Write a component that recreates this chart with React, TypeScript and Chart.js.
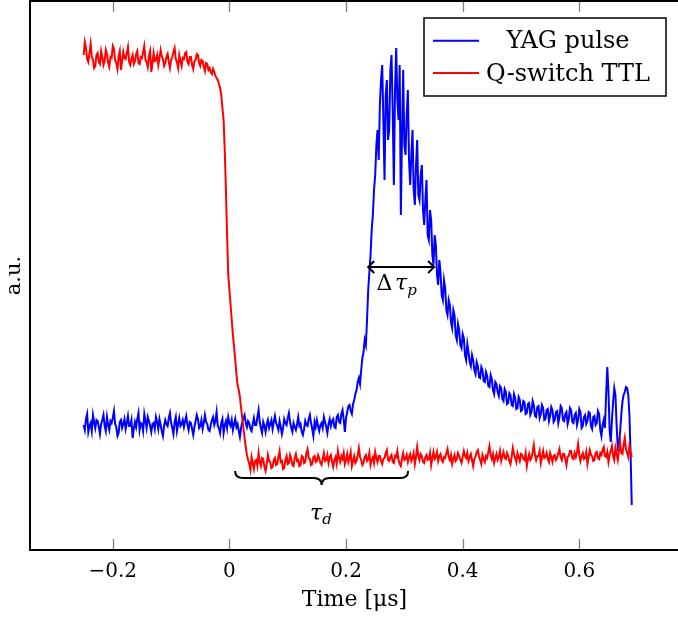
import React, { useEffect, useRef } from "react";
import { Chart, registerables } from "chart.js";

Chart.register(...registerables);

const FONT = "'DejaVu Serif', 'Liberation Serif', serif";

// Sampling grid of the oscilloscope traces (µs)
const T_START = -0.25;
const T_STEP = 0.002;

// YAG pulse photodiode trace (a.u.), one value per sample
const YAG_PULSE = [
  1.25, 1.20, 1.31, 1.36, 1.18, 1.24, 1.27, 1.19, 1.35, 1.28, 1.22, 1.30, 1.29, 1.23, 1.16, 1.26, 1.30, 1.35, 1.24, 1.19,
  1.33, 1.25, 1.20, 1.29, 1.27, 1.32, 1.39, 1.26, 1.23, 1.14, 1.17, 1.28, 1.30, 1.22, 1.26, 1.31, 1.21, 1.27, 1.34, 1.24,
  1.24, 1.30, 1.12, 1.21, 1.28, 1.23, 1.31, 1.37, 1.20, 1.27, 1.26, 1.19, 1.36, 1.29, 1.22, 1.33, 1.29, 1.24, 1.18, 1.26,
  1.27, 1.21, 1.33, 1.28, 1.21, 1.31, 1.25, 1.19, 1.14, 1.24, 1.30, 1.26, 1.24, 1.32, 1.37, 1.27, 1.22, 1.16, 1.28, 1.33,
  1.19, 1.26, 1.32, 1.24, 1.26, 1.30, 1.23, 1.29, 1.34, 1.25, 1.20, 1.28, 1.27, 1.21, 1.15, 1.23, 1.29, 1.35, 1.31, 1.22,
  1.24, 1.30, 1.21, 1.27, 1.35, 1.28, 1.26, 1.20, 1.19, 1.25, 1.30, 1.33, 1.25, 1.29, 1.38, 1.24, 1.22, 1.17, 1.27, 1.31,
  1.17, 1.25, 1.29, 1.22, 1.33, 1.27, 1.24, 1.30, 1.20, 1.26, 1.31, 1.23, 1.26, 1.19, 1.13, 1.22, 1.28, 1.32, 1.35, 1.27,
  1.23, 1.29, 1.27, 1.21, 1.19, 1.26, 1.32, 1.25, 1.25, 1.33, 1.40, 1.28, 1.22, 1.17, 1.28, 1.24, 1.18, 1.26, 1.30, 1.22,
  1.26, 1.30, 1.21, 1.28, 1.34, 1.27, 1.24, 1.20, 1.29, 1.23, 1.16, 1.22, 1.31, 1.27, 1.25, 1.32, 1.37, 1.28, 1.22, 1.18,
  1.27, 1.23, 1.20, 1.26, 1.33, 1.24, 1.26, 1.18, 1.15, 1.21, 1.29, 1.25, 1.24, 1.31, 1.35, 1.27, 1.21, 1.14, 1.28, 1.23,
  1.30, 1.24, 1.19, 1.25, 1.27, 1.22, 1.33, 1.28, 1.23, 1.17, 1.26, 1.31,
  1.24, 1.29, 1.31, 1.23, 1.22, 1.33, 1.35, 1.28, 1.27, 1.36, 1.40, 1.30, 1.18, 1.32, 1.38, 1.44, 1.45, 1.39, 1.36, 1.46,
  1.50, 1.56, 1.60, 1.68, 1.72, 1.66, 1.80, 1.92, 1.98, 2.10, 2.05, 2.30, 2.60, 2.78, 2.95, 3.20, 3.35, 3.60, 3.75, 4.05,
  4.20, 3.90, 4.45, 4.70, 4.85, 4.30, 3.70, 4.55, 4.70, 4.10, 4.20, 4.80, 4.95, 4.40, 3.65, 4.60, 5.02, 4.50, 4.30, 4.85,
  3.35, 4.15, 4.80, 4.05, 3.95, 4.35, 4.60, 3.90, 3.65, 3.95, 4.20, 3.60, 3.45, 3.85, 4.10, 3.55, 3.50, 3.75, 3.85, 3.40,
  3.25, 3.50, 3.70, 3.15, 3.10, 3.40, 3.30, 2.95, 2.85, 3.15, 3.05, 2.75, 2.65, 2.90, 2.78, 2.55, 2.50, 2.70, 2.62, 2.40,
  2.35, 2.50, 2.45, 2.28, 2.22, 2.40, 2.35, 2.15, 2.10, 2.26, 2.20, 2.05, 2.02, 2.16, 2.12, 1.95, 1.90, 2.06, 1.98, 1.88,
  1.84, 1.95, 1.90, 1.80, 1.76, 1.88, 1.84, 1.73, 1.72, 1.83, 1.80, 1.69, 1.68, 1.78, 1.74, 1.64, 1.63, 1.75, 1.71, 1.60,
  1.56, 1.68, 1.66, 1.58, 1.54, 1.64, 1.62, 1.51, 1.49, 1.61, 1.58, 1.46, 1.47, 1.57, 1.55, 1.45, 1.44, 1.56, 1.52, 1.41,
  1.42, 1.53, 1.50, 1.39, 1.40, 1.49, 1.48, 1.36, 1.37, 1.46, 1.47, 1.35, 1.38, 1.49, 1.45, 1.34, 1.33, 1.43, 1.44, 1.32,
  1.36, 1.45, 1.42, 1.30, 1.31, 1.40, 1.41, 1.29, 1.34, 1.43, 1.40, 1.28, 1.30, 1.38, 1.39, 1.27, 1.33, 1.44, 1.42, 1.30,
  1.29, 1.36, 1.38, 1.26, 1.31, 1.42, 1.40, 1.28, 1.27, 1.35, 1.37, 1.25, 1.30, 1.41, 1.38, 1.22, 1.24, 1.33, 1.35, 1.26,
  1.29, 1.38, 1.37, 1.24, 1.21, 1.33, 1.34, 1.25, 1.27, 1.39, 1.36, 1.20, 1.14, 1.25, 1.30, 1.22, 1.55, 1.83, 1.60, 1.20,
  1.08, 1.30, 1.48, 1.62, 1.55, 1.25, 1.02, 1.05, 1.18, 1.35, 1.48, 1.55, 1.58, 1.63, 1.62, 1.55, 1.35, 0.95, 0.45,
];

// Q-switch TTL trace (a.u.), one value per sample
const QSWITCH_TTL = [
  4.95, 5.08, 5.02, 4.91, 4.88, 4.97, 5.06, 4.93, 4.90, 4.82, 4.84, 4.95, 4.97, 4.88, 4.86, 4.99, 4.93, 4.85, 4.89, 5.00,
  4.96, 4.87, 4.83, 4.93, 4.92, 5.04, 5.01, 4.90, 4.87, 4.81, 4.94, 4.99, 4.80, 4.89, 4.98, 4.92, 4.91, 4.97, 5.03, 4.88,
  4.85, 4.91, 4.95, 4.86, 4.89, 4.96, 4.99, 4.87, 4.86, 4.93, 4.92, 4.98, 5.04, 4.90, 4.88, 4.83, 4.94, 4.99, 4.78, 4.87,
  4.97, 4.89, 4.90, 4.95, 4.85, 4.92, 5.00, 4.94, 4.91, 4.84, 4.87, 4.93, 4.96, 4.88, 4.82, 4.90, 4.93, 4.98, 5.02, 4.91,
  4.88, 4.82, 4.95, 4.89, 4.84, 4.92, 4.91, 4.97, 4.98, 4.88, 4.86, 4.93, 4.93, 4.85, 4.81, 4.89, 4.90, 4.96, 4.95, 4.87,
  4.84, 4.90, 4.89, 4.83, 4.79, 4.87, 4.86, 4.80, 4.82, 4.78, 4.76, 4.81, 4.78, 4.74,
  4.72, 4.70, 4.66, 4.62, 4.55, 4.42, 4.30, 4.00, 3.60, 3.15, 2.75, 2.60, 2.45, 2.30, 2.15, 2.03, 1.90, 1.76, 1.65, 1.60,
  1.53, 1.42, 1.32, 1.22, 1.12, 1.03, 0.95, 0.90,
  0.86, 0.80, 0.93, 0.87, 0.81, 0.89, 0.90, 0.84, 0.97, 0.88, 0.84, 0.92, 0.91, 0.83, 0.79, 0.86, 0.95, 0.89, 0.88, 0.82,
  0.83, 0.90, 0.92, 0.85, 0.86, 0.93, 0.99, 0.88, 0.89, 0.81, 0.82, 0.90, 0.94, 0.86, 0.87, 0.95, 0.91, 0.85, 0.84, 0.92,
  0.96, 0.89, 0.90, 0.84, 0.85, 0.94, 0.93, 0.87, 0.88, 0.97, 1.01, 0.92, 0.91, 0.85, 0.86, 0.93, 0.94, 0.88, 0.89, 0.95,
  0.92, 0.87, 0.85, 0.91, 0.97, 0.89, 0.90, 0.95, 0.87, 0.93, 0.95, 0.88, 0.83, 0.90, 0.93, 0.86, 0.99, 0.92, 0.88, 0.94,
  0.91, 0.97, 0.86, 0.90, 0.96, 0.88, 0.92, 0.98, 0.84, 0.89, 0.94, 0.87, 0.89, 0.95, 1.02, 0.93, 0.90, 0.85, 0.87, 0.93,
  0.95, 0.89, 0.91, 0.97, 0.85, 0.90, 0.93, 0.87, 0.98, 0.92, 0.88, 0.94, 0.94, 0.89, 0.86, 0.91, 0.92, 0.97, 1.00, 0.90,
  0.89, 0.93, 0.95, 0.88, 0.87, 0.94, 0.93, 0.99, 0.90, 0.86, 0.84, 0.92, 0.97, 0.90, 0.91, 0.95, 0.88, 0.93, 0.96, 0.89,
  0.92, 0.97, 0.86, 0.93, 1.03, 0.94, 0.90, 0.96, 0.94, 0.88, 0.87, 0.93, 0.95, 0.90, 0.91, 0.97, 0.85, 0.92, 0.98, 0.91,
  0.93, 0.98, 0.89, 0.94, 0.96, 0.90, 0.88, 0.93, 0.92, 0.97, 1.01, 0.93, 0.90, 0.95, 0.86, 0.91, 0.95, 0.89, 0.91, 0.97,
  0.94, 0.90, 0.87, 0.93, 0.99, 0.94, 0.92, 0.97, 0.89, 0.93, 0.96, 0.90, 0.84, 0.91, 0.93, 0.98, 1.00, 0.94, 0.90, 0.86,
  0.95, 0.91, 0.88, 0.94, 0.92, 0.98, 1.04, 0.95, 0.91, 0.96, 0.87, 0.92, 0.96, 0.90, 0.93, 0.99, 0.89, 0.94, 0.98, 0.92,
  0.91, 0.97, 0.94, 0.89, 0.86, 0.93, 1.02, 0.96, 0.92, 0.88, 0.97, 0.93, 0.89, 0.96, 0.95, 0.91, 0.90, 0.97, 0.84, 0.91,
  0.96, 0.90, 0.92, 0.98, 1.05, 0.95, 0.90, 0.94, 0.94, 0.99, 0.87, 0.93, 0.99, 0.92, 0.93, 0.97, 0.91, 0.88, 0.97, 0.93,
  0.88, 0.94, 0.95, 0.90, 0.92, 0.97, 1.01, 0.93, 0.90, 0.96, 0.96, 0.91, 0.85, 0.93, 0.94, 0.99, 0.99, 0.92, 0.91, 0.97,
  0.93, 0.98, 1.06, 0.95, 0.89, 0.94, 0.97, 0.91, 0.92, 0.98, 0.86, 0.93, 1.00, 0.95, 0.94, 0.89, 0.90, 0.97, 0.98, 0.92,
  0.91, 0.97, 0.95, 1.00, 1.03, 0.94, 0.93, 0.98, 0.88, 0.95, 0.99, 1.04, 0.94, 0.90, 1.02, 0.96, 0.90, 0.99, 1.08, 0.97,
  0.96, 1.05, 1.12, 1.01, 0.97, 0.93, 1.04, 0.98, 0.93,
];

const SERIES_LABELS = ["YAG pulse", "Q-switch TTL"];
const SERIES_COLORS = ["#0000ff", "#ff0000"];
const X_TICKS = [-0.2, 0, 0.2, 0.4, 0.6];
const X_TITLE = "Time [μs]";
const Y_TITLE = "a.u.";
const X_MIN = -0.342;
const X_MAX = 0.771;
const Y_MIN = 0;
const Y_MAX = 5.49;

// Annotations (data coordinates)
const PULSE_WIDTH_SPAN = [0.238, 0.351];
const PULSE_WIDTH_LEVEL = 2.83;
const PULSE_WIDTH_LABEL_AT = [0.2868, 2.6];
const DELAY_SPAN = [0.0098, 0.3065];
const DELAY_LEVEL = 0.79;
const DELAY_LABEL_AT = [0.157, 0.3];

const toPoints = (vals: number[]) =>
  vals.map((y, i) => ({ x: +(T_START + i * T_STEP).toFixed(4), y }));

function drawMath(ctx: CanvasRenderingContext2D, parts: { t: string; f: string; dy?: number }[], cx: number, base: number) {
  let total = 0;
  const ws = parts.map((p) => {
    ctx.font = p.f;
    const w = ctx.measureText(p.t).width;
    total += w;
    return w;
  });
  let x = cx - total / 2;
  ctx.textAlign = "left";
  ctx.textBaseline = "alphabetic";
  parts.forEach((p, i) => {
    ctx.font = p.f;
    ctx.fillText(p.t, x, base + (p.dy || 0));
    x += ws[i];
  });
}

const overlay = {
  id: "overlay",
  afterDatasetsDraw(chart: any) {
    const { ctx, chartArea: a, scales } = chart;
    const xs = scales.x;
    const ys = scales.y;
    ctx.save();

    // inward tick marks
    ctx.strokeStyle = "#808080";
    ctx.lineWidth = 1.3;
    for (const v of X_TICKS) {
      const px = Math.round(xs.getPixelForValue(v)) + 0.5;
      ctx.beginPath();
      ctx.moveTo(px, a.bottom);
      ctx.lineTo(px, a.bottom - 11);
      ctx.moveTo(px, a.top);
      ctx.lineTo(px, a.top + 11);
      ctx.stroke();
    }

    // frame
    ctx.strokeStyle = "#000";
    ctx.lineWidth = 2;
    ctx.strokeRect(a.left, a.top, a.right - a.left, a.bottom - a.top);

    // pulse width arrow
    const ax1 = xs.getPixelForValue(PULSE_WIDTH_SPAN[0]);
    const ax2 = xs.getPixelForValue(PULSE_WIDTH_SPAN[1]);
    const ay = ys.getPixelForValue(PULSE_WIDTH_LEVEL);
    ctx.lineWidth = 2;
    ctx.lineJoin = "miter";
    ctx.beginPath();
    ctx.moveTo(ax1, ay);
    ctx.lineTo(ax2, ay);
    ctx.moveTo(ax1 + 6, ay - 6);
    ctx.lineTo(ax1, ay);
    ctx.lineTo(ax1 + 6, ay + 6);
    ctx.moveTo(ax2 - 6, ay - 6);
    ctx.lineTo(ax2, ay);
    ctx.lineTo(ax2 - 6, ay + 6);
    ctx.stroke();
    ctx.fillStyle = "#000";
    drawMath(
      ctx,
      [
        { t: "Δ", f: `22px ${FONT}` },
        { t: " ", f: `8px ${FONT}` },
        { t: "τ", f: `italic 22px ${FONT}` },
        { t: "p", f: `italic 15px ${FONT}`, dy: 5 },
      ],
      xs.getPixelForValue(PULSE_WIDTH_LABEL_AT[0]),
      ys.getPixelForValue(PULSE_WIDTH_LABEL_AT[1])
    );

    // delay brace
    const b1 = xs.getPixelForValue(DELAY_SPAN[0]);
    const b2 = xs.getPixelForValue(DELAY_SPAN[1]);
    const bc = (b1 + b2) / 2;
    const by = ys.getPixelForValue(DELAY_LEVEL);
    const r = 8;
    const h = 7;
    ctx.beginPath();
    ctx.moveTo(b1, by);
    ctx.quadraticCurveTo(b1, by + h, b1 + r, by + h);
    ctx.lineTo(bc - r, by + h);
    ctx.quadraticCurveTo(bc, by + h, bc, by + 2 * h);
    ctx.quadraticCurveTo(bc, by + h, bc + r, by + h);
    ctx.lineTo(b2 - r, by + h);
    ctx.quadraticCurveTo(b2, by + h, b2, by);
    ctx.stroke();
    drawMath(
      ctx,
      [
        { t: "τ", f: `italic 22px ${FONT}` },
        { t: "d", f: `italic 15px ${FONT}`, dy: 4 },
      ],
      xs.getPixelForValue(DELAY_LABEL_AT[0]),
      ys.getPixelForValue(DELAY_LABEL_AT[1])
    );

    // legend
    const lw = 242;
    const lh = 78;
    const lx = a.right - 13 - lw;
    const ly = a.top + 17;
    ctx.fillStyle = "#fff";
    ctx.fillRect(lx, ly, lw, lh);
    ctx.strokeStyle = "#000";
    ctx.lineWidth = 1.5;
    ctx.strokeRect(lx, ly, lw, lh);
    const rows = [30.3, 62.7];
    SERIES_LABELS.forEach((lab, i) => {
      const yb = ly + rows[i];
      ctx.strokeStyle = SERIES_COLORS[i];
      ctx.lineWidth = 2;
      ctx.beginPath();
      ctx.moveTo(lx + 9, yb - 7.6);
      ctx.lineTo(lx + 55, yb - 7.6);
      ctx.stroke();
      ctx.fillStyle = "#000";
      ctx.font = `24px ${FONT}`;
      ctx.textAlign = "center";
      ctx.textBaseline = "alphabetic";
      ctx.fillText(lab, lx + 144, yb);
    });
    ctx.restore();
  },
};

export default function App() {
  const ref = useRef<HTMLCanvasElement | null>(null);
  useEffect(() => {
    if (!ref.current) return;
    const chart = new Chart(ref.current, {
      type: "line",
      data: {
        datasets: [
          {
            label: SERIES_LABELS[0],
            data: toPoints(YAG_PULSE),
            borderColor: SERIES_COLORS[0],
            borderWidth: 2,
            pointRadius: 0,
            tension: 0,
            fill: false,
            order: 1,
          },
          {
            label: SERIES_LABELS[1],
            data: toPoints(QSWITCH_TTL),
            borderColor: SERIES_COLORS[1],
            borderWidth: 2,
            pointRadius: 0,
            tension: 0,
            fill: false,
            order: 0,
          },
        ],
      },
      options: {
        animation: false,
        responsive: true,
        maintainAspectRatio: false,
        layout: { padding: { left: 0, top: 1, right: 11, bottom: 0 } },
        plugins: { legend: { display: false }, tooltip: { enabled: false } },
        scales: {
          x: {
            type: "linear",
            min: X_MIN,
            max: X_MAX,
            afterBuildTicks: (s: any) => {
              s.ticks = X_TICKS.map((v) => ({ value: v }));
            },
            afterFit: (s: any) => {
              s.height = 67;
            },
            grid: { display: false },
            border: { display: false },
            ticks: {
              color: "#000",
              font: { family: FONT, size: 20 },
              padding: 2,
              maxRotation: 0,
              autoSkip: false,
              callback: (v: any) => {
                const n = Number(v);
                const s = String(Math.round(Math.abs(n) * 10) / 10);
                return n < 0 ? "−" + s : s;
              },
            },
            title: {
              display: true,
              text: X_TITLE,
              color: "#000",
              font: { family: FONT, size: 22 },
              padding: { top: 0, bottom: 4 },
            },
          },
          y: {
            type: "linear",
            min: Y_MIN,
            max: Y_MAX,
            afterFit: (s: any) => {
              s.width = 30;
            },
            grid: { display: false },
            border: { display: false },
            ticks: { display: false },
            title: {
              display: true,
              text: Y_TITLE,
              color: "#000",
              font: { family: FONT, size: 21 },
              padding: { top: 2, bottom: 0 },
            },
          },
        },
      },
      plugins: [overlay],
    });
    return () => chart.destroy();
  }, []);
  return (
    <div style={{ position: "absolute", left: 0, top: 0, width: 678, height: 617, overflow: "hidden", background: "#fff" }}>
      <div style={{ position: "relative", width: 690, height: 617 }}>
        <canvas ref={ref} />
      </div>
    </div>
  );
}
